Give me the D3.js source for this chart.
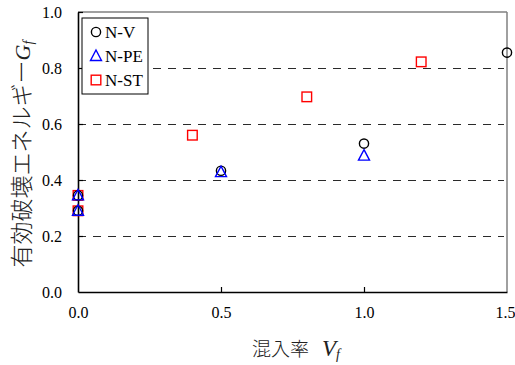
<!DOCTYPE html>
<html>
<head>
<meta charset="utf-8">
<script src="https://cdn.jsdelivr.net/npm/d3@7"></script>
<style>
  html, body { margin: 0; padding: 0; background: #fff; }
  svg { display: block; }
</style>
</head>
<body>
<div id="chart"></div>
<script>
// Effective fracture energy Gf vs. fibre volume fraction Vf
const seriesNames = ["N-V", "N-PE", "N-ST"];
const seriesColors = ["#000000", "#0000ff", "#ff0000"];
const seriesShapes = ["circle", "triangle", "square"];

const nvX = [0, 0, 0.5, 1.0, 1.5];
const nvY = [0.29, 0.345, 0.433, 0.53, 0.855];

const npeX = [0, 0, 0.5, 1.0];
const npeY = [0.29, 0.345, 0.428, 0.487];

const nstX = [0, 0, 0.4, 0.8, 1.2];
const nstY = [0.29, 0.345, 0.56, 0.697, 0.822];

const xTicks = [0, 0.5, 1.0, 1.5];
const yTicks = [0, 0.2, 0.4, 0.6, 0.8, 1.0];
const gridValues = [0.2, 0.4, 0.6, 0.8];

const W = 515, H = 365;
const margin = { left: 78, right: 8, top: 12, bottom: 73 };
const iw = W - margin.left - margin.right;
const ih = H - margin.top - margin.bottom;

const svg = d3.select("#chart").append("svg")
  .attr("width", W).attr("height", H);

const x = d3.scaleLinear().domain([0, 1.5]).range([margin.left, margin.left + iw]);
const y = d3.scaleLinear().domain([0, 1.0]).range([margin.top + ih, margin.top]);

const serif = "'Liberation Serif', 'DejaVu Serif', serif";
const cjk = "'Noto Sans CJK JP', 'Noto Sans CJK SC', sans-serif";

// dashed horizontal grid
svg.append("g").selectAll("line").data(gridValues).join("line")
  .attr("x1", x(0)).attr("x2", x(1.5) - 3)
  .attr("y1", d => y(d) + 0.5).attr("y2", d => y(d) + 0.5)
  .attr("stroke", "#2a2a2a").attr("stroke-width", 1)
  .attr("stroke-dasharray", "8,7");

// top and right frame in grey
svg.append("line").attr("x1", x(0)).attr("x2", x(1.5))
  .attr("y1", y(1)).attr("y2", y(1))
  .attr("stroke", "#808080").attr("stroke-width", 1.5);
svg.append("line").attr("x1", x(1.5)).attr("x2", x(1.5))
  .attr("y1", y(1)).attr("y2", y(0))
  .attr("stroke", "#808080").attr("stroke-width", 1.5);

// axes with inward ticks
const xAxis = d3.axisBottom(x).tickValues(xTicks).tickFormat(d3.format(".1f"))
  .tickSizeInner(-5).tickSizeOuter(0).tickPadding(15);
const gx = svg.append("g").attr("transform", `translate(0,${y(0)})`).call(xAxis);

const yAxis = d3.axisLeft(y).tickValues(yTicks).tickFormat(d3.format(".1f"))
  .tickSizeInner(-5).tickSizeOuter(0).tickPadding(16);
const gy = svg.append("g").attr("transform", `translate(${x(0)},0)`).call(yAxis);

[gx, gy].forEach(g => {
  g.select(".domain").attr("stroke", "#000").attr("stroke-width", 1.6);
  g.selectAll(".tick line").attr("stroke", "#000").attr("stroke-width", 1.2);
  g.selectAll(".tick text").attr("font-size", 16).attr("fill", "#000")
    .attr("font-family", serif);
});
gx.selectAll(".tick text").attr("dy", "0.71em");
gy.selectAll(".tick").filter(d => d === 0).select("line").remove();
gx.selectAll(".tick").filter(d => d === 0 || d === 1.5).select("line").remove();
// keep the last x label inside the window edge
gx.selectAll(".tick").filter(d => d === 1.5).select("text").attr("dx", -2);

// marker drawing
function drawMarker(sel, shape, color) {
  if (shape === "circle") {
    sel.append("circle").attr("r", 4.6)
      .attr("fill", "none").attr("stroke", color).attr("stroke-width", 1.4);
  } else if (shape === "triangle") {
    sel.append("path").attr("d", "M0,-6L5.5,4.5L-5.5,4.5Z")
      .attr("fill", "none").attr("stroke", color).attr("stroke-width", 1.4);
  } else {
    sel.append("rect").attr("x", -4.8).attr("y", -4.8).attr("width", 9.6).attr("height", 9.6)
      .attr("fill", "none").attr("stroke", color).attr("stroke-width", 1.4);
  }
}

const seriesData = [
  d3.zip(nvX, nvY),
  d3.zip(npeX, npeY),
  d3.zip(nstX, nstY)
];

// squares underneath, then circles, triangles on top
[2, 0, 1].forEach(i => {
  svg.append("g").selectAll("g").data(seriesData[i]).join("g")
    .attr("transform", d => `translate(${x(d[0])},${y(d[1])})`)
    .each(function () { drawMarker(d3.select(this), seriesShapes[i], seriesColors[i]); });
});

// legend
const lg = svg.append("g").attr("transform", "translate(82,18)");
lg.append("rect").attr("width", 66).attr("height", 76)
  .attr("fill", "#fff").attr("stroke", "#000").attr("stroke-width", 1);
seriesNames.forEach((name, i) => {
  const row = lg.append("g").attr("transform", `translate(14,${14 + i * 24})`);
  drawMarker(row, seriesShapes[i], seriesColors[i]);
  row.append("text").attr("x", 9).attr("dy", "0.35em")
    .attr("font-family", serif).attr("font-size", 17).attr("fill", "#000")
    .text(name);
});

// x axis title
const xt = svg.append("text")
  .attr("x", 252).attr("y", 356)
  .attr("text-anchor", "start").attr("fill", "#222");
xt.append("tspan").attr("font-family", cjk).attr("font-size", 19).attr("font-weight", 300).text("混入率");
xt.append("tspan").attr("font-family", serif).attr("font-style", "italic").attr("font-size", 23).attr("dx", 13).text("V");
xt.append("tspan").attr("font-family", serif).attr("font-style", "italic").attr("font-size", 14).attr("dy", 3).text("f");

// y axis title
const yt = svg.append("text")
  .attr("transform", "translate(30,154) rotate(-90)")
  .attr("text-anchor", "middle").attr("fill", "#222");
yt.append("tspan").attr("font-family", cjk).attr("font-size", 23).attr("font-weight", 300).text("有効破壊エネルギー");
yt.append("tspan").attr("font-family", serif).attr("font-style", "italic").attr("font-size", 22).text("G");
yt.append("tspan").attr("font-family", serif).attr("font-style", "italic").attr("font-size", 14).attr("dy", 3).text("f");
</script>
</body>
</html>
